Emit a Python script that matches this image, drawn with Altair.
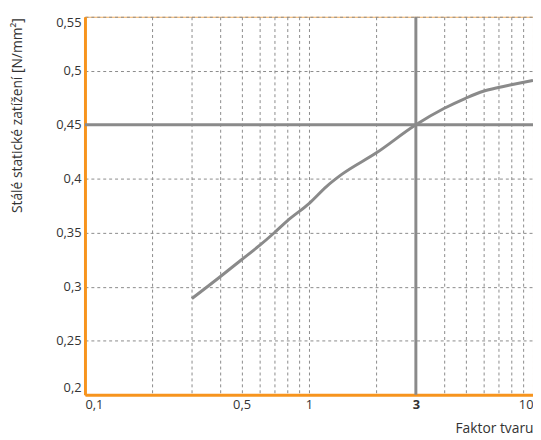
import altair as alt
import pandas as pd

# curve
curve_x = [0.3, 0.4, 0.5, 0.6, 0.7, 0.8, 1.0, 1.2, 1.4, 2.0, 3.0, 4.0, 5.0, 6.0, 7.0, 8.0, 10.0]
curve_y = [0.289, 0.309, 0.325, 0.338, 0.350, 0.361, 0.377, 0.393, 0.404, 0.424, 0.450, 0.465, 0.4745, 0.481, 0.4845, 0.487, 0.491]

ref_x = [3]
ref_y = [0.45]

x_grid = [0.1, 0.2, 0.3, 0.4, 0.5, 0.6, 0.7, 0.8, 0.9, 1, 2, 3, 4, 5, 6, 7, 8, 9, 10]
x_labels = [0.1, 0.5, 1, 3, 10]
y_ticks = [0.2, 0.25, 0.3, 0.35, 0.4, 0.45, 0.5, 0.55]

FONT = "Open Sans"
ORANGE = "#f7941d"
GREY = "#8a8a8a"

curve = pd.DataFrame({"x": curve_x, "y": curve_y})
hline = pd.DataFrame({"y": ref_y})
vline = pd.DataFrame({"x": ref_x})

xscale = alt.Scale(type="log", domain=[0.1, 10], nice=False)
yscale = alt.Scale(domain=[0.2, 0.55], nice=False, zero=False)

lab_list = ",".join(str(v) for v in x_labels)
x_axis = alt.Axis(
    values=x_grid,
    labelExpr=f"indexof([{lab_list}], datum.value) >= 0 ? replace(toString(datum.value), '.', ',') : ''",
    labelFlush=True,
    labelOverlap=False,
    labelFontWeight={"expr": "datum.value == 3 ? 'bold' : 'normal'"},
    ticks=False,
    grid=True,
    gridDash=[3, 3],
    gridColor=GREY,
    gridWidth=1,
    domainColor=ORANGE,
    domainWidth=3,
    labelPadding=4,
    title="Faktor tvaru",
    titleX=454,
    titleY=34,
    titleAlign="right",
    titleBaseline="middle",
)
y_axis = alt.Axis(
    values=y_ticks,
    labelExpr="replace(toString(datum.value), '.', ',')",
    labelFlush=True,
    ticks=False,
    grid=True,
    gridDash=[3, 3],
    gridColor=GREY,
    gridWidth=1,
    domainColor=ORANGE,
    domainWidth=3,
    labelPadding=4,
    title="Stálé statické zatížení [N/mm²]",
    titleX=-68,
    titleY=1,
    titleAngle=-90,
    titleAlign="right",
    titleBaseline="middle",
)

line = alt.Chart(curve).mark_line(color=GREY, strokeWidth=3, interpolate="monotone").encode(
    x=alt.X("x:Q", scale=xscale, axis=x_axis),
    y=alt.Y("y:Q", scale=yscale, axis=y_axis),
)
h = alt.Chart(hline).mark_rule(color=GREY, strokeWidth=3).encode(
    y=alt.Y("y:Q", scale=yscale)
)
v = alt.Chart(vline).mark_rule(color=GREY, strokeWidth=3).encode(
    x=alt.X("x:Q", scale=xscale)
)

chart = (
    alt.layer(h, v, line)
    .properties(
        width=454,
        height=383,
        autosize=alt.AutoSizeParams(type="none"),
        padding={"left": 78, "top": 6, "right": 0, "bottom": 42},
    )
    .configure_view(stroke="#f5b060", strokeWidth=1)
    .configure_axis(
        labelFont=FONT, labelFontSize=13, labelColor="#333333",
        titleFont=FONT, titleFontSize=14, titleColor="#333333", titleFontWeight="normal",
        gridOpacity=1,
    )
)

chart.save("out.html", embed_options={"renderer": "svg", "actions": False})
